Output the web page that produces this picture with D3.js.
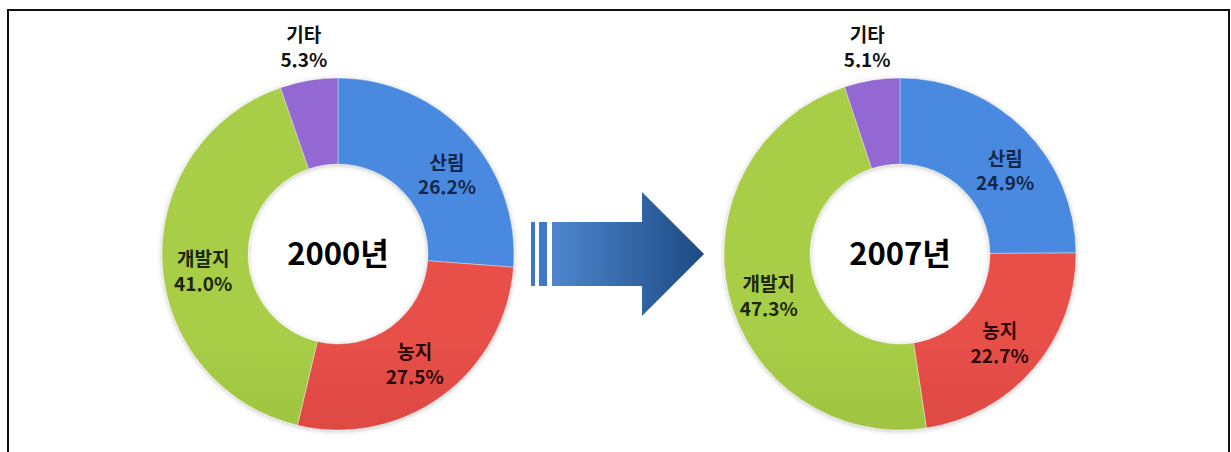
<!DOCTYPE html>
<html lang="ko">
<head>
    <meta charset="UTF-8">
    <script src="https://d3js.org/d3.v7.min.js"></script>
    <style>
        body { margin: 0; background: #fff; font-family: "Noto Sans CJK KR", "Noto Sans", sans-serif; }
        svg { display: block; }
    </style>
</head>
<body>
    <div id="chart"></div>
    <script>
        // 토지이용 구성비 (%)
        const categories = ["산림", "농지", "개발지", "기타"];
        const years = ["2000년", "2007년"];
        const values2000 = [26.2, 27.5, 41.0, 5.3];
        const values2007 = [24.9, 22.7, 47.3, 5.1];

        const W = 1231, H = 452;
        const outerR = 176, innerR = 90;
        const cy = 254;
        const centers = d3.scaleOrdinal().domain(years).range([338, 900]);

        const fillTop = ["#4a8ae0", "#e8504a", "#a8cd46", "#9468d2"];
        const fillBottom = ["#2a60ae", "#c4362f", "#86ad36", "#6c40a6"];
        const textColor = ["#14264a", "#2a0808", "#1a2606", "#111111"];
        // 라벨 미세 위치 보정 (px)
        const nudge = [[10, 14], [-3, 3], [0, 12], [0, -2]];

        const svg = d3.select("#chart").append("svg")
            .attr("width", W).attr("height", H);

        const defs = svg.append("defs");

        // 각 도넛에 대한 세로 그라데이션
        years.forEach((yr, j) => {
            categories.forEach((c, i) => {
                const g = defs.append("linearGradient")
                    .attr("id", `grad-${j}-${i}`)
                    .attr("gradientUnits", "userSpaceOnUse")
                    .attr("x1", 0).attr("x2", 0)
                    .attr("y1", cy - outerR).attr("y2", cy + outerR);
                g.append("stop").attr("offset", "0%").attr("stop-color", fillTop[i]);
                g.append("stop").attr("offset", "100%").attr("stop-color", fillBottom[i]);
            });
        });

        const shadow = defs.append("filter").attr("id", "glow")
            .attr("x", "-10%").attr("y", "-10%").attr("width", "120%").attr("height", "120%");
        shadow.append("feDropShadow")
            .attr("dx", 0).attr("dy", 1).attr("stdDeviation", 2.5)
            .attr("flood-color", "#000").attr("flood-opacity", 0.25);

        const arrowGrad = defs.append("linearGradient").attr("id", "arrow-grad")
            .attr("x1", "0%").attr("x2", "100%").attr("y1", "0%").attr("y2", "0%");
        arrowGrad.append("stop").attr("offset", "0%").attr("stop-color", "#4f86cf");
        arrowGrad.append("stop").attr("offset", "100%").attr("stop-color", "#1d4a82");

        // 바깥 테두리
        svg.append("rect")
            .attr("x", 8).attr("y", 10)
            .attr("width", 1221).attr("height", 460)
            .attr("fill", "none")
            .attr("stroke", "#111")
            .attr("stroke-width", 2);

        const pie = d3.pie().sort(null).value(d => d);
        const arc = d3.arc().innerRadius(innerR).outerRadius(outerR);
        const labelArc = d3.arc().innerRadius(135).outerRadius(135);
        const outsideArc = d3.arc().innerRadius(206).outerRadius(206);

        [values2000, values2007].forEach((vals, j) => {
            const g = svg.append("g")
                .attr("transform", `translate(${centers(years[j])},${cy})`);

            const arcs = pie(vals);

            g.append("g").attr("filter", "url(#glow)")
                .selectAll("path")
                .data(arcs)
                .enter()
                .append("path")
                .attr("d", arc)
                .attr("fill", (d, i) => `url(#grad-${j}-${i})`)
                .attr("stroke", "rgba(255,255,255,0.35)")
                .attr("stroke-width", 1);

            const labels = g.selectAll(".label")
                .data(arcs)
                .enter()
                .append("text")
                .attr("class", "label")
                .attr("transform", (d, i) => {
                    const p = (i === 3 ? outsideArc : labelArc).centroid(d);
                    return `translate(${p[0] + nudge[i][0]},${p[1] + nudge[i][1]})`;
                })
                .attr("text-anchor", "middle")
                .style("font-size", "19px")
                .style("font-weight", "bold")
                .style("fill", (d, i) => textColor[i]);

            labels.append("tspan")
                .attr("x", 0).attr("dy", "-0.35em")
                .text((d, i) => categories[i]);
            labels.append("tspan")
                .attr("x", 0).attr("dy", "1.3em")
                .text(d => d.data.toFixed(1) + "%");

            g.append("text")
                .attr("text-anchor", "middle")
                .attr("dy", "0.36em")
                .style("font-size", "31px")
                .style("font-weight", "bold")
                .style("fill", "#000")
                .text(years[j]);
        });

        // 가운데 화살표
        const ax0 = centers(years[0]) + outerR + 17;
        const ax1 = centers(years[1]) - outerR - 20;
        const body = 32, head = 62;
        const headBase = ax1 - 62;
        const arrow = svg.append("g");
        arrow.append("rect").attr("x", ax0).attr("y", cy - body)
            .attr("width", 4).attr("height", body * 2).attr("fill", "#3f78c4");
        arrow.append("rect").attr("x", ax0 + 8).attr("y", cy - body)
            .attr("width", 8).attr("height", body * 2).attr("fill", "#3f78c4");
        arrow.append("path")
            .attr("d", `M${ax0 + 21},${cy - body} L${headBase},${cy - body} L${headBase},${cy - head}
                        L${ax1},${cy} L${headBase},${cy + head} L${headBase},${cy + body}
                        L${ax0 + 21},${cy + body} Z`)
            .attr("fill", "url(#arrow-grad)");
    </script>
</body>
</html>
